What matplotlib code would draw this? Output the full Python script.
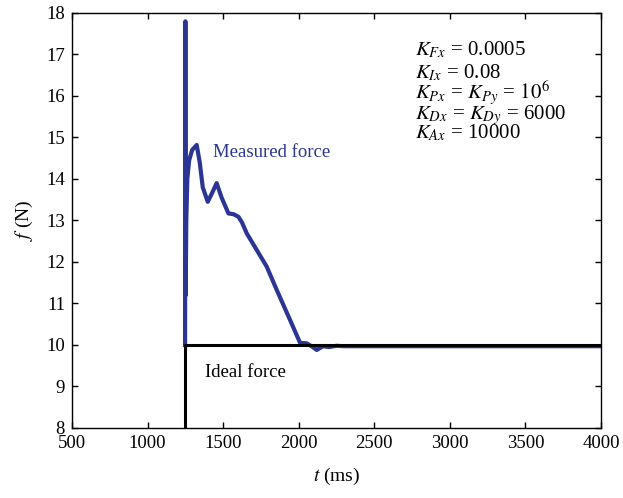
import matplotlib

matplotlib.use("Agg")
import matplotlib.pyplot as plt

# Measured contact force (ms, N)
t_measured = [1248, 1250, 1252, 1256, 1263, 1275, 1295, 1325, 1345, 1365, 1398,
              1425, 1457, 1490, 1535, 1570, 1601, 1625, 1656, 1722, 1788, 1854,
              1943, 2009, 2053, 2085, 2119, 2160, 2200, 2250, 2300, 4000]
f_measured = [10.0, 17.8, 11.2, 13.0, 14.0, 14.45, 14.7, 14.82, 14.4, 13.8, 13.45,
              13.65, 13.9, 13.55, 13.17, 13.15, 13.09, 12.95, 12.69, 12.29, 11.89,
              11.33, 10.60, 10.05, 10.04, 9.97, 9.88, 9.97, 9.95, 9.98, 9.97, 9.97]

# Ideal step force
t_ideal = [1250, 1250, 4000]
f_ideal = [0, 10, 10]

gains = [
    r"$K_{Fx}$ = 0.0005",
    r"$K_{Ix}$ = 0.08",
    r"$K_{Px}$ = $K_{Py}$ = $10^6$",
    r"$K_{Dx}$ = $K_{Dy}$ = 6000",
    r"$K_{Ax}$ = 10000",
]
gain_baseline = [0.897, 0.843, 0.792, 0.744, 0.697]

plt.rcParams["font.family"] = ["Liberation Serif", "DejaVu Serif"]
plt.rcParams["mathtext.fontset"] = "stix"

fig = plt.figure(figsize=(6.23, 4.98), dpi=100)
ax = fig.add_axes([0.1156, 0.1406, 0.8491, 0.8333])

blue = "#2b3594"
ax.plot(t_measured, f_measured, color=blue, lw=3.0, solid_joinstyle="round",
        zorder=2)
ax.plot(t_ideal, f_ideal, color="black", lw=2.2, zorder=3)

ax.set_xlim(500, 4000)
ax.set_ylim(8, 18)
ax.set_xticks(range(500, 4001, 500))
ax.set_yticks(range(8, 19))
ax.tick_params(direction="in", length=4, width=1, labelsize=13.5,
               top=True, right=True, pad=5)
for side in ax.spines.values():
    side.set_linewidth(1.0)

ax.set_xlabel(r"$t$ (ms)", fontsize=14, labelpad=10)
ax.set_ylabel(r"$f$ (N)", fontsize=14, labelpad=8)

ax.text(1430, 14.63, "Measured force", color=blue, fontsize=13.5,
        va="center", ha="left")
ax.text(1380, 9.33, "Ideal force", color="black", fontsize=13.5,
        va="center", ha="left")

# Controller gains, one line each
for label, y in zip(gains, gain_baseline):
    ax.text(0.648, y, label, transform=ax.transAxes, fontsize=15,
            va="baseline", ha="left")

fig.savefig("out.png", dpi=100)
